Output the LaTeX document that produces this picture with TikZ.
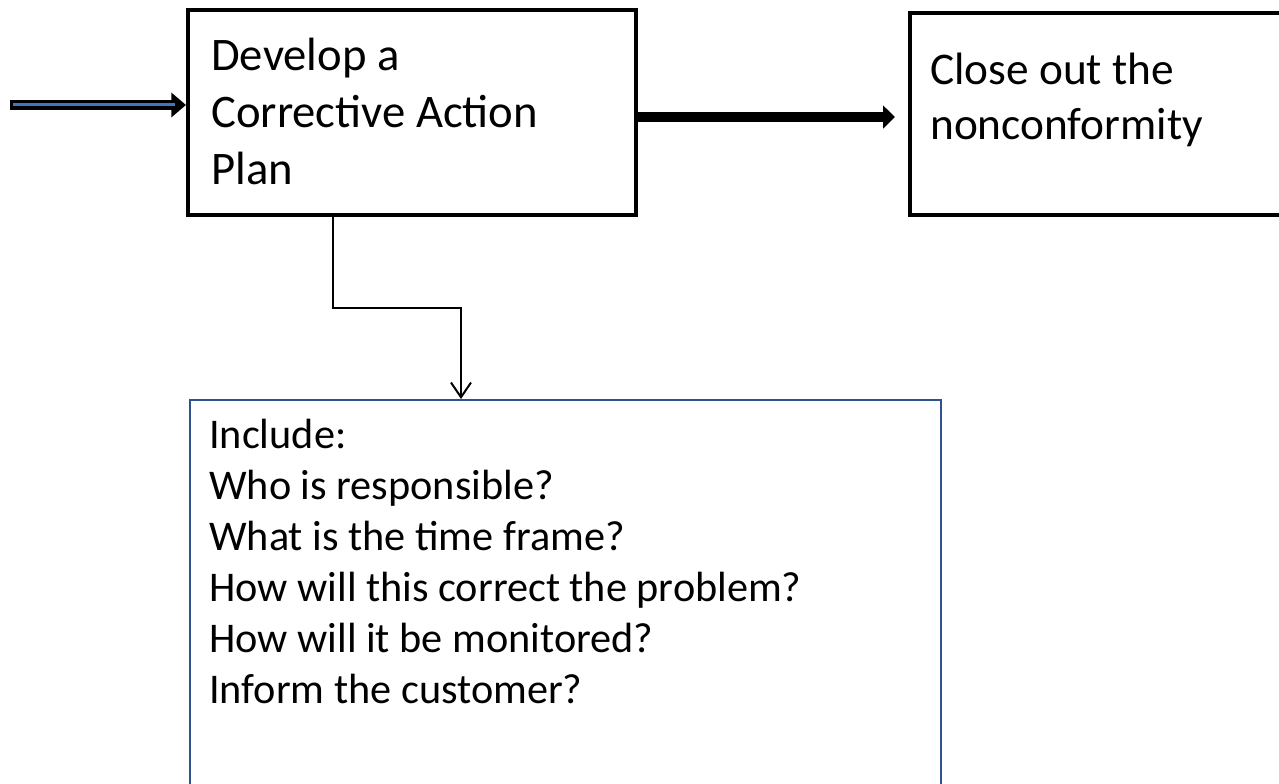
\documentclass[tikz,border=0pt]{standalone}
\usepackage{fontspec}
\setmainfont{Carlito}
\usetikzlibrary{arrows.meta}
\pgfdeclarelayer{edgelayer}
\pgfdeclarelayer{nodelayer}
\pgfsetlayers{edgelayer,nodelayer,main}
\definecolor{boxblue}{RGB}{47,82,143}
\definecolor{feedblue}{RGB}{68,114,196}
\tikzstyle{none}=[inner sep=0pt]
\tikzstyle{box}=[draw=black,line width=3pt,inner sep=0pt]
\tikzstyle{blue box}=[draw=boxblue,line width=1.5pt,inner sep=0pt]
\tikzstyle{label}=[inner sep=0pt,anchor=base west,align=left]
\tikzstyle{feed}=[line width=7.5pt,-{Triangle[length=11pt,width=18pt]}]
\tikzstyle{feed core}=[feedblue,line width=2.25pt,shorten <=2.25pt,shorten >=8pt]
\tikzstyle{flow}=[line width=7.5pt,-{Triangle[length=9pt,width=17pt]}]
\tikzstyle{link}=[line width=1.5pt,-{Straight Barb[length=11pt,width=15pt]}]

\begin{document}
\begin{tikzpicture}[x=75pt,y=75pt]
	\useasboundingbox (0,0) rectangle (12.79,-7.84);
	\begin{pgfonlayer}{nodelayer}
		\node [style=box, minimum width=336pt, minimum height=153.75pt] (0) at (4.12, -1.125) {};
		\node [style=box, minimum width=307.5pt, minimum height=151.5pt] (1) at (11.15, -1.14) {};
		\node [style=blue box, minimum width=563.25pt, minimum height=322.5pt] (2) at (5.655, -6.15) {};
		\node [style=label, font={\fontsize{35}{43.1}\selectfont}] (3) at (2.11, -1.85) {Develop a\\Corrective Action\\Plan};
		\node [style=label, font={\fontsize{34}{41.25}\selectfont}] (4) at (9.30, -1.40) {Close out the\\nonconformity};
		\node [style=label, font={\fontsize{31.7}{38.25}\selectfont}] (5) at (2.09, -7.03) {Include:\\Who is responsible?\\What is the time frame?\\How will this correct the problem?\\How will it be monitored?\\Inform the customer?};
		\node [style=none] (6) at (0.10, -1.05) {};
		\node [style=none] (7) at (3.33, -3.08) {};
		\node [style=none] (8) at (4.61, -3.08) {};
	\end{pgfonlayer}
	\begin{pgfonlayer}{edgelayer}
		\draw [style=feed] (6.center) to (6 -| 0.west);
		\draw [style=feed core] (6.center) to (6 -| 0.west);
		\draw [style=flow, shorten >=9.75pt] ([yshift=-3.4pt]0.east) to ([yshift=-3.4pt]0.east -| 1.west);
		\draw [style=link] (7 |- 0.south) to (7.center) to (8.center) to (8 |- 2.north);
	\end{pgfonlayer}
\end{tikzpicture}
\end{document}
